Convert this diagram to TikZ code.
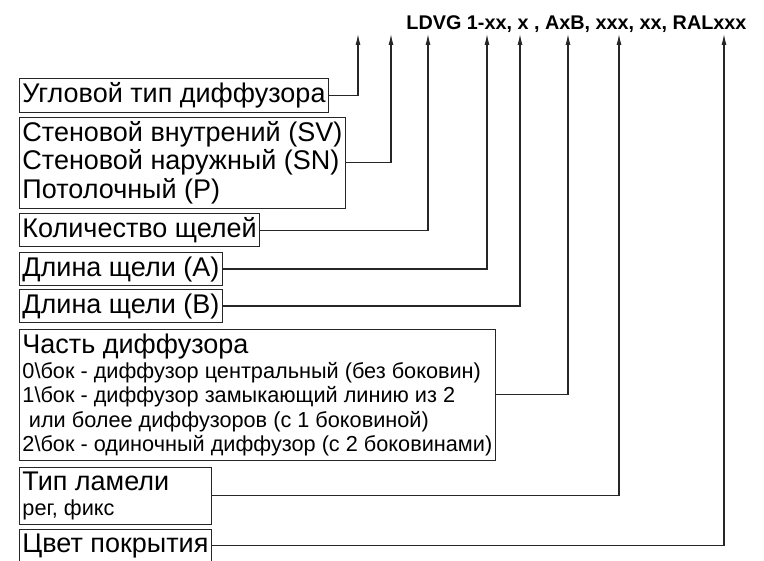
\documentclass[tikz,border=0pt]{standalone}
\usepackage{fontspec}
\setmainfont{Liberation Sans}
\usetikzlibrary{arrows.meta}
\tikzset{
  labelbox/.style={draw=black!85, line width=0.9pt, anchor=north west, align=left,
    inner xsep=3pt, inner ysep=4pt, font=\fontsize{27}{28.5}\selectfont},
  lead/.style={draw=black!85, line width=1.1pt, -{Latex[length=11pt,width=5pt]}}
}
\newcommand{\smalltxt}{\fontsize{21.7}{23}\selectfont}

\begin{document}
\begin{tikzpicture}[x=1pt,y=-1pt]
\clip (0,0) rectangle (764,561);
\node[anchor=base east,font=\bfseries\fontsize{19.8}{23}\selectfont] (code) at (750,30) {LDVG 1-xx, x , AxB, xxx, xx, RALxxx};
% arrow tips below the code
\coordinate (t1) at (358,34);
\coordinate (t2) at (391,34);
\coordinate (t3) at (428,34);
\coordinate (t4) at (487,34);
\coordinate (t5) at (520,34);
\coordinate (t6) at (568,34);
\coordinate (t7) at (619,34);
\coordinate (t8) at (724,34);
% boxes
\node[labelbox] (ugol) at (19,78) {Угловой тип диффузора};
\node[labelbox] (vid) at (19,117) {Стеновой внутрений (SV)\\Стеновой наружный (SN)\\Потолочный (P)};
\node[labelbox] (kol) at (19,213) {Количество щелей};
\node[labelbox] (dla) at (19,252) {Длина щели (A)};
\node[labelbox] (dlb) at (19,289) {Длина щели (B)};
\node[labelbox] (chast) at (19,329) {Часть диффузора\\[-3.5pt]
  \smalltxt 0\textbackslash бок - диффузор центральный (без боковин)\\[-4pt]
  \smalltxt 1\textbackslash бок - диффузор замыкающий линию из 2\\[-4pt]
  \smalltxt \hspace{0.3em}или более диффузоров (с 1 боковиной)\\[-4pt]
  \smalltxt 2\textbackslash бок - одиночный диффузор (с 2 боковинами)};
\node[labelbox] (lam) at (19,467) {\makebox[186pt][l]{Тип ламели}\\[-3pt]\smalltxt рег, фикс};
\node[labelbox] (cvet) at (19,529) {\makebox[186pt][l]{Цвет покрытия}};
% leaders
\draw[lead] (ugol.east) -| (t1);
\draw[lead] (vid.east) -| (t2);
\draw[lead] (kol.east) -| (t3);
\draw[lead] (dla.east) -| (t4);
\draw[lead] (dlb.east) -| (t5);
\draw[lead] (chast.east) -| (t6);
\draw[lead] (lam.east) -| (t7);
\draw[lead] (cvet.east) -| (t8);
\end{tikzpicture}
\end{document}
